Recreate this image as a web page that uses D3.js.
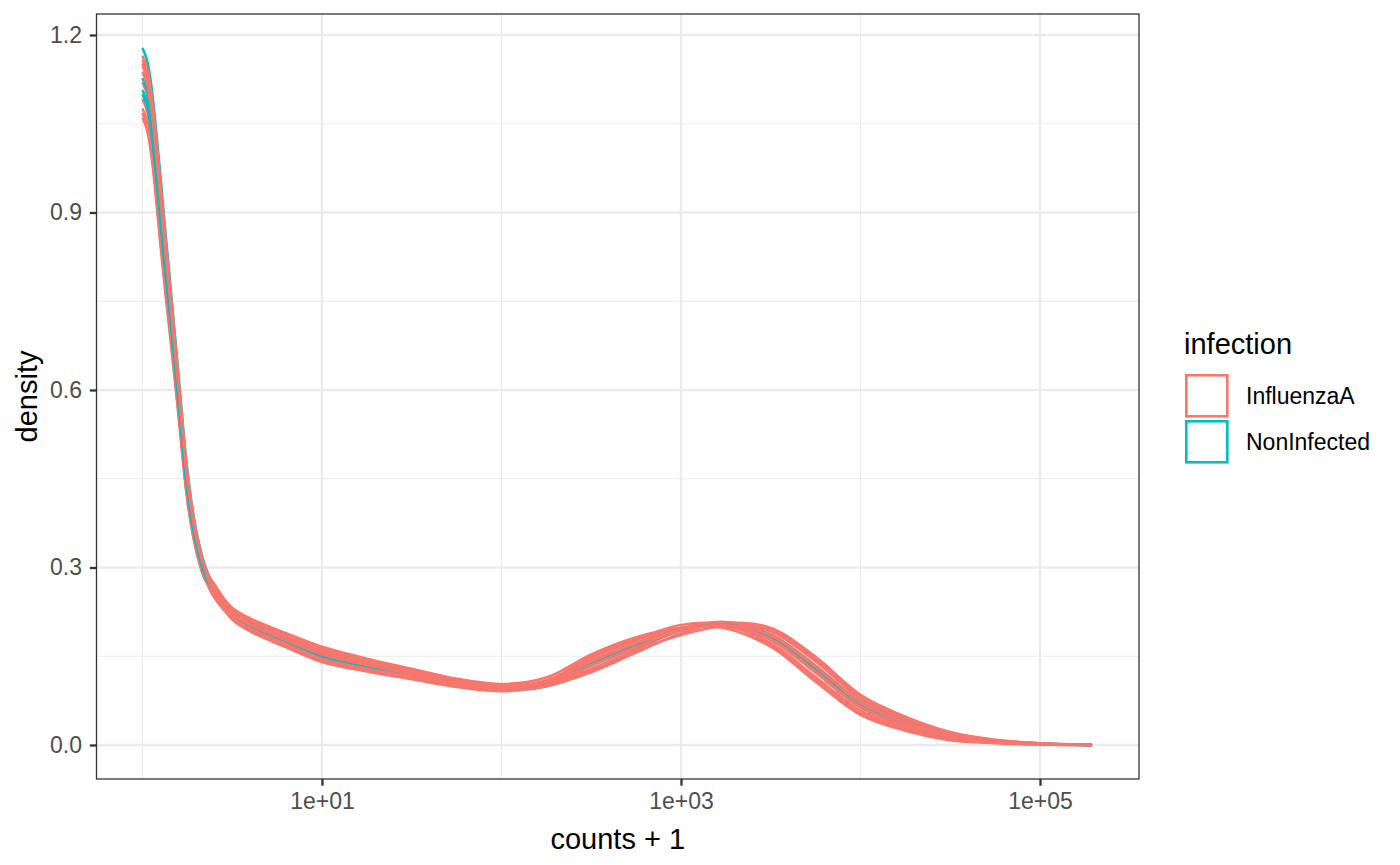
<!DOCTYPE html>
<html>
<head>
<meta charset="utf-8">
<title>Density of counts + 1 by infection</title>
<script src="https://cdn.jsdelivr.net/npm/d3@7"></script>
<style>
  body { margin: 0; background: #ffffff; }
  text { font-family: "Liberation Sans", Arial, Helvetica, sans-serif; }
</style>
</head>
<body>
<script>
// x positions of the density estimates, as log10(counts + 1)
var log10Counts = [0, 0.025, 0.05, 0.075, 0.1, 0.125, 0.15, 0.2, 0.25, 0.3, 0.35, 0.4, 0.5, 0.6, 0.8,
  1.0, 1.25, 1.5, 1.75, 2.0, 2.25, 2.5, 2.75, 3.0, 3.25, 3.5, 3.75, 4.0, 4.25, 4.5, 4.75, 5.0, 5.29];

var groups = ["InfluenzaA", "NonInfected"];
var groupColours = ["#F8766D", "#00BFC4"];

var xTickValues = [10, 1000, 100000];
var xTickLabels = ["1e+01", "1e+03", "1e+05"];
var xMinorValues = [1, 100, 10000];
var yTickValues = [0, 0.3, 0.6, 0.9, 1.2];
var yTickLabels = ["0.0", "0.3", "0.6", "0.9", "1.2"];
var yMinorValues = [0.15, 0.45, 0.75, 1.05];

// density per sample
var influenzaA = [
  [1.060, 1.040, 0.995, 0.925, 0.845, 0.771, 0.702, 0.559, 0.413, 0.327, 0.278, 0.259, 0.227, 0.209, 0.183,
   0.160, 0.141, 0.125, 0.109, 0.100, 0.109, 0.143, 0.173, 0.195, 0.200, 0.177, 0.122, 0.063, 0.032, 0.013, 0.005, 0.002, 0],
  [1.068, 1.048, 1.003, 0.933, 0.853, 0.778, 0.708, 0.564, 0.417, 0.329, 0.280, 0.249, 0.214, 0.194, 0.167,
   0.143, 0.126, 0.113, 0.099, 0.092, 0.099, 0.129, 0.161, 0.194, 0.207, 0.192, 0.141, 0.078, 0.043, 0.019, 0.008, 0.003, 0],
  [1.076, 1.056, 1.011, 0.941, 0.861, 0.785, 0.715, 0.569, 0.420, 0.332, 0.281, 0.265, 0.232, 0.214, 0.189,
   0.166, 0.146, 0.129, 0.112, 0.103, 0.114, 0.153, 0.182, 0.198, 0.197, 0.166, 0.107, 0.051, 0.024, 0.008, 0.003, 0.001, 0],
  [1.092, 1.072, 1.027, 0.957, 0.877, 0.800, 0.728, 0.578, 0.427, 0.337, 0.284, 0.256, 0.219, 0.200, 0.173,
   0.149, 0.132, 0.117, 0.103, 0.095, 0.099, 0.123, 0.156, 0.189, 0.206, 0.198, 0.149, 0.085, 0.048, 0.022, 0.009, 0.003, 0],
  [1.120, 1.100, 1.055, 0.985, 0.905, 0.825, 0.750, 0.595, 0.440, 0.345, 0.290, 0.264, 0.224, 0.205, 0.179,
   0.156, 0.137, 0.122, 0.106, 0.098, 0.109, 0.147, 0.177, 0.198, 0.201, 0.172, 0.115, 0.058, 0.029, 0.011, 0.004, 0.001, 0],
  [1.138, 1.118, 1.073, 1.003, 0.923, 0.841, 0.764, 0.606, 0.448, 0.350, 0.294, 0.256, 0.212, 0.192, 0.165,
   0.140, 0.124, 0.111, 0.098, 0.091, 0.100, 0.134, 0.165, 0.197, 0.208, 0.187, 0.134, 0.073, 0.040, 0.017, 0.007, 0.002, 0],
  [1.148, 1.128, 1.083, 1.013, 0.933, 0.850, 0.772, 0.612, 0.453, 0.353, 0.296, 0.272, 0.230, 0.212, 0.187,
   0.163, 0.144, 0.127, 0.111, 0.102, 0.104, 0.126, 0.159, 0.186, 0.201, 0.195, 0.145, 0.082, 0.046, 0.021, 0.008, 0.003, 0],
  [1.158, 1.138, 1.093, 1.023, 0.943, 0.859, 0.780, 0.618, 0.457, 0.356, 0.298, 0.263, 0.217, 0.197, 0.171,
   0.146, 0.129, 0.116, 0.101, 0.094, 0.107, 0.150, 0.179, 0.203, 0.203, 0.169, 0.111, 0.054, 0.026, 0.009, 0.004, 0.001, 0],
  [1.165, 1.145, 1.100, 1.030, 0.950, 0.866, 0.786, 0.622, 0.460, 0.359, 0.299, 0.267, 0.222, 0.203, 0.177,
   0.153, 0.135, 0.120, 0.105, 0.097, 0.104, 0.135, 0.166, 0.194, 0.203, 0.185, 0.132, 0.071, 0.038, 0.016, 0.007, 0.002, 0],
  [1.152, 1.132, 1.087, 1.017, 0.937, 0.854, 0.776, 0.614, 0.454, 0.355, 0.296, 0.268, 0.225, 0.206, 0.181,
   0.157, 0.138, 0.123, 0.107, 0.099, 0.107, 0.141, 0.172, 0.195, 0.201, 0.179, 0.124, 0.065, 0.034, 0.014, 0.005, 0.002, 0]
];

var nonInfected = [
  [1.178, 1.158, 1.113, 1.043, 0.963, 0.877, 0.796, 0.630, 0.466, 0.362, 0.302, 0.267, 0.220, 0.201, 0.175,
   0.150, 0.133, 0.118, 0.104, 0.096, 0.104, 0.137, 0.168, 0.195, 0.204, 0.184, 0.130, 0.070, 0.037, 0.016, 0.006, 0.002, 0],
  [1.127, 1.107, 1.062, 0.992, 0.912, 0.831, 0.756, 0.599, 0.443, 0.347, 0.291, 0.262, 0.221, 0.202, 0.176,
   0.152, 0.134, 0.119, 0.104, 0.096, 0.105, 0.140, 0.170, 0.196, 0.203, 0.180, 0.126, 0.066, 0.035, 0.014, 0.006, 0.002, 0],
  [1.107, 1.087, 1.042, 0.972, 0.892, 0.813, 0.740, 0.587, 0.434, 0.341, 0.287, 0.258, 0.219, 0.200, 0.173,
   0.149, 0.132, 0.117, 0.103, 0.095, 0.102, 0.134, 0.165, 0.194, 0.205, 0.187, 0.134, 0.073, 0.040, 0.017, 0.007, 0.002, 0],
  [1.100, 1.080, 1.035, 0.965, 0.885, 0.807, 0.734, 0.583, 0.431, 0.339, 0.286, 0.260, 0.222, 0.203, 0.177,
   0.153, 0.135, 0.120, 0.105, 0.097, 0.105, 0.138, 0.169, 0.195, 0.203, 0.182, 0.128, 0.068, 0.036, 0.015, 0.006, 0.002, 0]
];

var width = 1400, height = 865;
var panel = {left: 96.5, right: 1139, top: 14, bottom: 779};

var svg = d3.select("body").append("svg")
  .attr("width", width)
  .attr("height", height);

var x = d3.scaleLog()
  .domain([Math.pow(10, -0.256), Math.pow(10, 5.5515)])
  .range([panel.left, panel.right]);
var y = d3.scaleLinear()
  .domain([-0.0575, 1.2355])
  .range([panel.bottom, panel.top]);

// grid
var grid = svg.append("g").attr("id", "grid");
grid.selectAll(".ymin").data(yMinorValues).enter().append("line")
  .attr("x1", panel.left).attr("x2", panel.right)
  .attr("y1", function (d) { return y(d); }).attr("y2", function (d) { return y(d); })
  .attr("stroke", "#ebebeb").attr("stroke-width", 1.2);
grid.selectAll(".xmin").data(xMinorValues).enter().append("line")
  .attr("y1", panel.top).attr("y2", panel.bottom)
  .attr("x1", function (d) { return x(d); }).attr("x2", function (d) { return x(d); })
  .attr("stroke", "#ebebeb").attr("stroke-width", 1.2);
grid.selectAll(".ymaj").data(yTickValues).enter().append("line")
  .attr("x1", panel.left).attr("x2", panel.right)
  .attr("y1", function (d) { return y(d); }).attr("y2", function (d) { return y(d); })
  .attr("stroke", "#ebebeb").attr("stroke-width", 2.3);
grid.selectAll(".xmaj").data(xTickValues).enter().append("line")
  .attr("y1", panel.top).attr("y2", panel.bottom)
  .attr("x1", function (d) { return x(d); }).attr("x2", function (d) { return x(d); })
  .attr("stroke", "#ebebeb").attr("stroke-width", 2.3);

// density lines, drawn interleaved like ggplot's sample order
var line = d3.line()
  .x(function (d, i) { return x(Math.pow(10, log10Counts[i])); })
  .y(function (d) { return y(d); })
  .curve(d3.curveCatmullRom.alpha(0.5));

var drawOrder = [];
influenzaA.slice(0, 5).forEach(function (s) { drawOrder.push({g: 0, v: s}); });
nonInfected.forEach(function (s) { drawOrder.push({g: 1, v: s}); });
influenzaA.slice(5).forEach(function (s) { drawOrder.push({g: 0, v: s}); });

svg.append("g").attr("id", "lines")
  .selectAll("path").data(drawOrder).enter().append("path")
  .attr("d", function (d) { return line(d.v); })
  .attr("fill", "none")
  .attr("stroke", function (d) { return groupColours[d.g]; })
  .attr("stroke-width", 2.5)
  .attr("stroke-linejoin", "round");

// panel border
svg.append("rect")
  .attr("x", panel.left).attr("y", panel.top)
  .attr("width", panel.right - panel.left).attr("height", panel.bottom - panel.top)
  .attr("fill", "none").attr("stroke", "#333333").attr("stroke-width", 1.3);

// axes
var xAxis = svg.append("g")
  .attr("transform", "translate(0," + panel.bottom + ")")
  .call(d3.axisBottom(x).tickValues(xTickValues)
    .tickFormat(function (d, i) { return xTickLabels[i]; })
    .tickSize(6.7).tickPadding(7));
var yAxis = svg.append("g")
  .attr("transform", "translate(" + panel.left + ",0)")
  .call(d3.axisLeft(y).tickValues(yTickValues)
    .tickFormat(function (d, i) { return yTickLabels[i]; })
    .tickSize(6.7).tickPadding(7.8));

[xAxis, yAxis].forEach(function (a) {
  a.select(".domain").remove();
  a.selectAll(".tick line").attr("stroke", "#333333").attr("stroke-width", 2.3);
  a.selectAll(".tick text")
    .attr("fill", "#4D4D4D")
    .style("font-family", '"Liberation Sans", Arial, sans-serif')
    .style("font-size", "23px");
});

svg.append("text")
  .attr("x", (panel.left + panel.right) / 2).attr("y", 849)
  .attr("text-anchor", "middle")
  .style("font-size", "29px")
  .text("counts + 1");

svg.append("text")
  .attr("transform", "translate(37," + (panel.top + panel.bottom) / 2 + ")rotate(-90)")
  .attr("text-anchor", "middle")
  .style("font-size", "29px")
  .text("density");

// legend
var legend = svg.append("g").attr("id", "legend");
legend.append("text")
  .attr("x", 1184).attr("y", 354)
  .style("font-size", "29px")
  .text("infection");

var keySize = 41, keyStep = 46, keyTop = 375.3;
legend.selectAll("rect").data(groups).enter().append("rect")
  .attr("x", 1186.3)
  .attr("y", function (d, i) { return keyTop + i * keyStep; })
  .attr("width", keySize).attr("height", keySize)
  .attr("fill", "#ffffff")
  .attr("stroke", function (d, i) { return groupColours[i]; })
  .attr("stroke-width", 2.6);
legend.selectAll(".label").data(groups).enter().append("text")
  .attr("x", 1246)
  .attr("y", function (d, i) { return keyTop + keySize / 2 + i * keyStep + 8; })
  .style("font-size", "23px")
  .attr("fill", "#000000")
  .text(function (d) { return d; });
</script>
</body>
</html>
